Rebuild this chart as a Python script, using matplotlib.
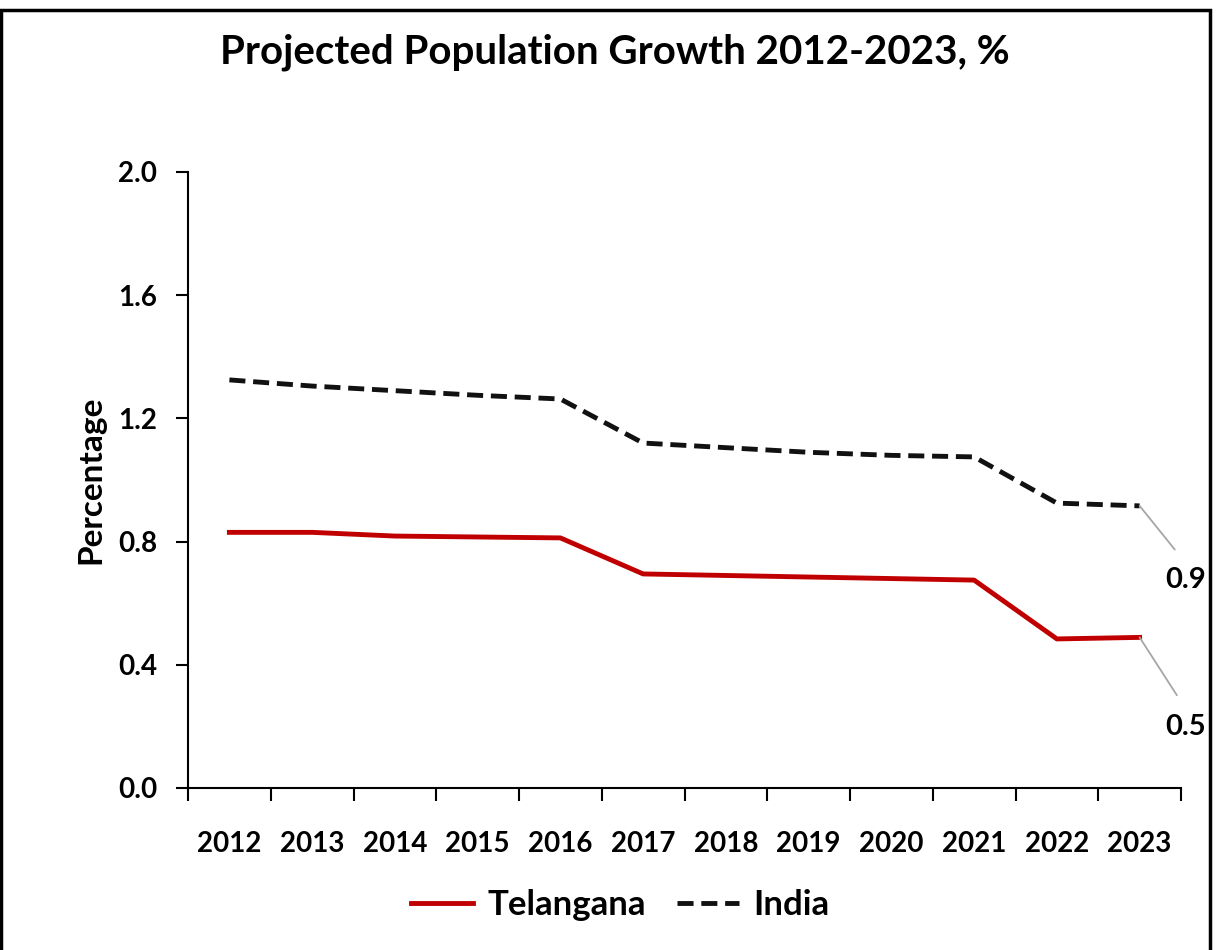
import numpy as np
import matplotlib
matplotlib.use("Agg")
import matplotlib.pyplot as plt
from matplotlib.patches import Rectangle

plt.rcParams['font.family'] = ['Lato', 'DejaVu Sans']
plt.rcParams['font.weight'] = 'bold'
plt.rcParams['axes.labelweight'] = 'bold'

years = ['2012', '2013', '2014', '2015', '2016', '2017',
         '2018', '2019', '2020', '2021', '2022', '2023']
telangana = [0.83, 0.83, 0.818, 0.815, 0.812, 0.695,
             0.69, 0.685, 0.68, 0.675, 0.484, 0.489]
india = [1.325, 1.305, 1.29, 1.275, 1.263, 1.12,
         1.105, 1.09, 1.08, 1.075, 0.925, 0.916]
end_labels = ['0.5', '0.9']

fig = plt.figure(figsize=(12.21, 9.5), dpi=100)
ax = fig.add_axes([188/1221, 1 - 788/950, (1181 - 188)/1221, (788 - 172)/950])

x = np.arange(len(years))
ax.plot(x, telangana, color='#C00000', lw=3.5, label='Telangana',
        solid_joinstyle='round')
ax.plot(x, india, color='#111111', lw=3.5, label='India',
        dashes=(3.3, 1.6), dash_joinstyle='round')

ax.set_xlim(-0.5, len(years) - 0.5)
ax.set_ylim(0, 2.0)
ax.set_yticks(np.arange(0, 2.01, 0.4))
ax.set_yticklabels([f'{v:.1f}' for v in np.arange(0, 2.01, 0.4)], fontsize=20)
ax.set_xticks(x)
ax.set_xticklabels(years, fontsize=20)
ax.set_xticks(np.arange(-0.5, len(years), 1), minor=True)
ax.tick_params(axis='x', which='major', length=0, pad=31)
ax.tick_params(axis='x', which='minor', length=9, width=1.5, direction='out')
ax.tick_params(axis='y', length=9, width=1.5, direction='out', pad=13)
for s in ['top', 'right']:
    ax.spines[s].set_visible(False)
for s in ['left', 'bottom']:
    ax.spines[s].set_linewidth(1.5)

ax.set_ylabel('Percentage', fontsize=24, labelpad=9)

# end-of-line data labels with leader lines
for series, lab, dy in [(telangana, end_labels[0], -0.25), (india, end_labels[1], -0.2)]:
    xe, ye = x[-1], series[-1]
    ax.annotate(lab, xy=(xe, ye), xytext=(xe + 0.55, ye + dy),
                fontsize=21, ha='center', va='top', annotation_clip=False,
                arrowprops=dict(arrowstyle='-', color='#A6A6A6', lw=1.3,
                                shrinkA=14, shrinkB=0, relpos=(0.6, 1.0)))

fig.text(615/1221, 1 - 52/950, 'Projected Population Growth 2012-2023, %',
         ha='center', va='center', fontsize=29)

fig.legend(loc='center', bbox_to_anchor=(620/1221, 1 - 905/950), ncol=2,
           frameon=False, fontsize=25, handlelength=1.8, columnspacing=0.9,
           handletextpad=0.4)

fig.patches.append(Rectangle((1/1221, -0.01), 1209/1221, 1.0, transform=fig.transFigure,
                             fill=False, edgecolor='black', lw=2.5))

fig.savefig('out.png', dpi=100)
